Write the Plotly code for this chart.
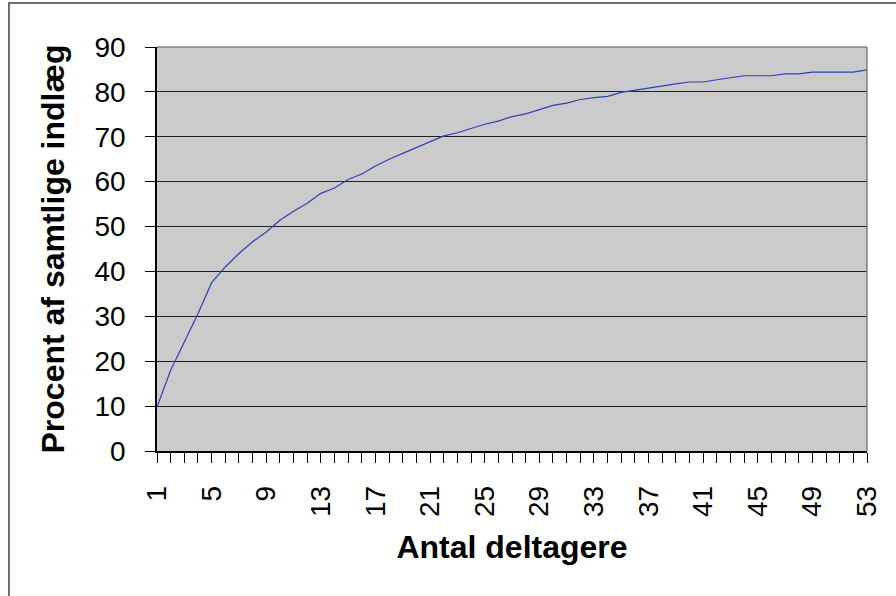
import plotly.graph_objects as go

deltagere = list(range(1, 54))
procent = [
    9.8, 18.0, 24.3, 30.6, 37.5, 41.0, 44.0, 46.6, 48.8, 51.4,
    53.4, 55.2, 57.4, 58.6, 60.5, 61.7, 63.5, 65.0, 66.3, 67.6,
    68.9, 70.2, 70.9, 71.9, 72.8, 73.5, 74.5, 75.1, 76.0, 77.0,
    77.5, 78.3, 78.7, 79.0, 79.9, 80.4, 80.9, 81.3, 81.8, 82.2,
    82.2, 82.7, 83.1, 83.6, 83.6, 83.6, 84.0, 84.0, 84.4, 84.4,
    84.4, 84.4, 84.9,
]
x_tick_labels = [str(v) for v in range(1, 54, 4)]
y_tick_values = list(range(0, 91, 10))

FONT = "Liberation Sans, Arial, sans-serif"

fig = go.Figure()
fig.add_trace(go.Scatter(
    x=deltagere, y=procent, mode="lines",
    line=dict(color="#3040B0", width=1.2),
    hoverinfo="x+y", showlegend=False,
))

fig.update_layout(
    width=896, height=596,
    margin=dict(l=157, r=29, t=47, b=145, autoexpand=False),
    paper_bgcolor="white",
    plot_bgcolor="#CBCBCB",
    font=dict(family=FONT, color="black"),
    xaxis=dict(
        range=[1, 53],
        tickmode="array",
        tickvals=[int(t) for t in x_tick_labels],
        ticktext=x_tick_labels,
        tickangle=-90,
        tickfont=dict(size=28, family=FONT),
        ticks="outside", ticklen=10, tickwidth=1, tickcolor="black",
        minor=dict(ticks="outside", dtick=1, tick0=1, ticklen=10,
                   tickwidth=1, tickcolor="black", showgrid=False),
        ticklabelstandoff=12,
        showgrid=False, zeroline=False,
        showline=True, linecolor="black", linewidth=1.5,
        title=dict(text="<b>Antal deltagere</b>",
                   font=dict(size=32, family=FONT), standoff=19),
        automargin=False,
    ),
    yaxis=dict(
        range=[0, 90],
        tickmode="array",
        tickvals=y_tick_values,
        ticktext=[str(v) for v in y_tick_values],
        tickfont=dict(size=28, family=FONT),
        ticks="outside", ticklen=10, tickwidth=1, tickcolor="black",
        ticklabelstandoff=14,
        showgrid=True, gridcolor="#202020", gridwidth=1,
        zeroline=False,
        showline=True, linecolor="black", linewidth=1.5,
        title=dict(text="<b>Procent af samtlige indlæg</b>",
                   font=dict(size=32, family=FONT), standoff=20),
        automargin=False,
    ),
    shapes=[
        # gray border on top and right of plot area
        dict(type="line", xref="x domain", yref="y domain",
             x0=0, x1=1, y0=1, y1=1, line=dict(color="#808080", width=1.5)),
        dict(type="line", xref="x domain", yref="y domain",
             x0=1, x1=1, y0=0, y1=1, line=dict(color="#808080", width=1.5)),
        # outer chart border (extends past the right and bottom edges)
        dict(type="rect", xref="paper", yref="paper",
             x0=-0.2085, x1=1.0465, y0=-0.369, y1=1.109,
             line=dict(color="#404040", width=1.5), fillcolor="rgba(0,0,0,0)"),
    ],
)

fig.write_html(
    "out.html",
    config={"displayModeBar": False},
    post_script="document.body.style.margin='0';document.body.style.overflow='hidden';",
)
